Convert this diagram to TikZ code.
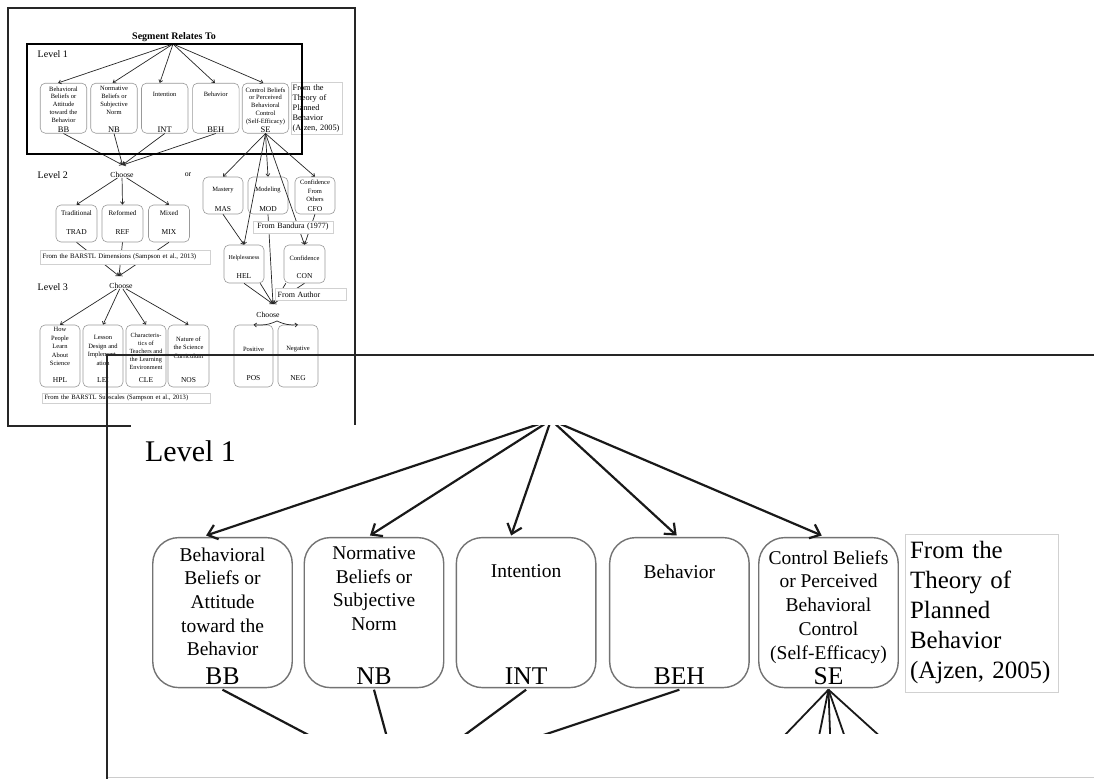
\documentclass[tikz,border=0pt]{standalone}
\usepackage{fontspec}
\setmainfont{Liberation Serif}
\usetikzlibrary{arrows.meta,shadows}

% Level 1 of the coding tree; #1 prefixes every node name so that it can be drawn twice
\newcommand\levelone[1]{%
  \coordinate (#1src) at (173,44);
  \coordinate (#1join) at (122.5,165);
  \node[lvtitle, anchor=west] (#1lvl) at (37.5,54.5) {Level 1};
  \node[lvbox, minimum width=46.5pt, minimum height=50pt] (#1bb)  at (63.5,108.2) {};
  \node[lvbox, minimum width=46.5pt, minimum height=50pt] (#1nb)  at (114,108.2) {};
  \node[lvbox, minimum width=46.5pt, minimum height=50pt] (#1int) at (164.7,108.2) {};
  \node[lvbox, minimum width=46.5pt, minimum height=50pt] (#1beh) at (215.8,108.2) {};
  \node[lvbox, minimum width=46.5pt, minimum height=50pt] (#1se)  at (265.5,108.2) {};
  \node[btxt] (#1bbt)  at (63.5,86.3)  {Behavioral\\Beliefs or\\Attitude\\toward the\\Behavior};
  \node[btxt] (#1nbt)  at (114,86)     {Normative\\Beliefs or\\Subjective\\Norm};
  \node[btxt] (#1intt) at (164.7,92)   {Intention};
  \node[btxt] (#1beht) at (215.8,92)   {Behavior};
  \node[btxt] (#1set)  at (265.5,87.3) {Control Beliefs\\or Perceived\\Behavioral\\Control\\(Self-Efficacy)};
  \node[babbr] (#1bba)  at (63.5,132.3)  {BB};
  \node[babbr] (#1nba)  at (114,132.3)   {NB};
  \node[babbr] (#1inta) at (164.7,132.3) {INT};
  \node[babbr] (#1beha) at (215.8,132.3) {BEH};
  \node[babbr] (#1sea)  at (265.5,132.3) {SE};
  \node[tpbnote] (#1tpb) at (291,81.7) {From the\\Theory of\\Planned\\Behavior\\(Ajzen, 2005)};
  \draw[lvarrow] (#1src) -- (#1bb.102);
  \draw[lvarrow] (#1src) -- (#1nb.93);
  \draw[lvarrow] (#1src) -- (#1int.101);
  \draw[lvarrow] (#1src) -- (#1beh.92);
  \draw[lvarrow] (#1src) -- (#1se.95);
  \foreach \b in {bb,nb,int,beh} \draw[lvarrow] (#1\b.south) -- (#1join);
}

\begin{document}
\begin{tikzpicture}[x=1pt,y=-1pt,
  frame/.style={draw=black!85, line width=1.3pt},
  lvbox/.style={draw=black!40, line width=0.6pt, rounded corners=5pt, inner sep=0pt, fill=white},
  lvarrow/.style={draw=black!85, line width=0.7pt, -{Straight Barb[length=2.5pt,width=4pt]}},
  fanline/.style={draw=black!85, line width=0.7pt, -{Straight Barb[length=2.5pt,width=4pt]}},
  btxt/.style={font=\fontsize{6.5}{7.9}\selectfont, align=center, inner sep=0pt, anchor=north},
  babbr/.style={font=\fontsize{8.5}{9}\selectfont, inner sep=0pt, anchor=base},
  lvtitle/.style={font=\fontsize{10}{12}\selectfont, inner sep=0pt},
  tpbnote/.style={draw=black!18, fill=white, drop shadow={shadow xshift=0.4pt, shadow yshift=-0.4pt, fill=black!40, opacity=0.4},
    inner xsep=1.5pt, inner ysep=2.6pt, align=left, text width=48pt, anchor=north west,
    font=\fontsize{8.3}{10}\selectfont},
  srclabel/.style={draw=black!18, fill=white, drop shadow={shadow xshift=0.4pt, shadow yshift=-0.4pt, fill=black!40, opacity=0.4},
    inner xsep=2.5pt, inner ysep=0pt, align=left},
  wtxt/.style={font=\fontsize{7}{8.5}\selectfont, inner sep=0pt},
  stxt/.style={font=\fontsize{6.5}{8.5}\selectfont, inner sep=0pt, align=center},
  abbr/.style={font=\fontsize{7.5}{9}\selectfont, inner sep=0pt},
  choosetxt/.style={font=\fontsize{7.7}{9}\selectfont, inner sep=0pt}]

\useasboundingbox (0,0) rectangle (1094,779);
\fill[white] (0,0) rectangle (1094,779);

% ---------- overview of the whole coding tree ----------
\draw[frame] (8,8) rectangle (355,426);
\node[font=\bfseries\fontsize{10}{12}\selectfont, inner sep=0pt] (title) at (174,37) {Segment Relates To};

\levelone{}
\draw[line width=1.8pt] (27,44) rectangle (302,154);

% Level 2, left branch
\node[lvtitle, anchor=west] (lvl2) at (37.5,175) {Level 2};
\node[choosetxt] (ch2) at (122,175) {Choose};
\node[choosetxt] (orx) at (188,175) {or};
\node[lvbox, minimum width=41pt, minimum height=37pt] (trad) at (76.5,223.5) {};
\node[lvbox, minimum width=41pt, minimum height=37pt] (ref)  at (122.5,223.5) {};
\node[lvbox, minimum width=41pt, minimum height=37pt] (mix)  at (169,223.5) {};
\node[wtxt] (tradt) at (76.5,213) {Traditional};
\node[wtxt] (reft)  at (122.5,213) {Reformed};
\node[wtxt] (mixt)  at (169,213) {Mixed};
\node[abbr] (trada) at (76.5,232) {TRAD};
\node[abbr] (refa)  at (122.5,232) {REF};
\node[abbr] (mixa)  at (169,232) {MIX};
\draw[lvarrow] (ch2) -- (trad.north);
\draw[lvarrow] (ch2) -- (ref.north);
\draw[lvarrow] (ch2) -- (mix.north);
\coordinate (join3) at (119,276);
\foreach \b in {trad,ref,mix} \draw[lvarrow] (\b.south) -- (join3);
\node[srclabel, text width=165pt, minimum height=14pt, font=\fontsize{6.8}{8}\selectfont] (dims) at (125,257)
  {From the BARSTL Dimensions (Sampson et al., 2013)};

% Level 3
\node[lvtitle, anchor=west] (lvl3) at (37.5,287) {Level 3};
\node[choosetxt] (ch3) at (121,286) {Choose};
\node[lvbox, minimum width=40pt, minimum height=62pt] (hpl) at (60,356) {};
\node[lvbox, minimum width=40pt, minimum height=62pt] (lei) at (103,356) {};
\node[lvbox, minimum width=40pt, minimum height=62pt] (cle) at (146,356) {};
\node[lvbox, minimum width=41pt, minimum height=62pt] (nos) at (188.5,356) {};
\node[stxt, anchor=north] (hplt) at (60,327.3) {How\\People\\Learn\\About\\Science};
\node[stxt, anchor=north] (leit) at (103,335.5) {Lesson\\Design and\\Implement-\\ation};
\node[stxt, anchor=north, font=\fontsize{6.3}{8}\selectfont] (clet) at (146,332.5) {Characteris-\\tics of\\Teachers and\\the Learning\\Environment};
\node[stxt, anchor=north] (nost) at (188.5,336.5) {Nature of\\the Science\\Curriculum};
\node[abbr] (hpla) at (60,380) {HPL};
\node[abbr] (leia) at (103,380) {LEI};
\node[abbr] (clea) at (146,380) {CLE};
\node[abbr] (nosa) at (188.5,380) {NOS};
\foreach \b in {hpl,lei,cle,nos} \draw[lvarrow] (ch3) -- (\b.north);
\node[srclabel, text width=163pt, minimum height=10.5pt, font=\fontsize{6.6}{8}\selectfont] (subs) at (126,398)
  {From the BARSTL Subscales (Sampson et al., 2013)};

% Level 2, self-efficacy branch
\node[lvbox, minimum width=40pt, minimum height=37pt] (mas) at (223,195.5) {};
\node[lvbox, minimum width=40pt, minimum height=37pt] (mod) at (268,195.5) {};
\node[lvbox, minimum width=40pt, minimum height=37pt] (cfo) at (315,195.5) {};
\node[lvbox, minimum width=40pt, minimum height=38pt] (hel) at (244,264) {};
\node[lvbox, minimum width=41pt, minimum height=38pt] (con) at (304.5,264) {};
\node[lvbox, minimum width=39pt, minimum height=62pt] (pos) at (253.5,356) {};
\node[lvbox, minimum width=40pt, minimum height=62pt] (neg) at (298,356) {};
\node[stxt] (mast) at (223,190) {Mastery};
\node[stxt] (modt) at (268,190) {Modeling};
\node[stxt, anchor=north] (cfot) at (315,179.8) {Confidence\\From\\Others};
\node[stxt, font=\fontsize{6}{8}\selectfont] (helt) at (244,258) {Helplessness};
\node[stxt] (cont) at (304.5,258) {Confidence};
\node[stxt] (post) at (253.5,349) {Positive};
\node[stxt] (negt) at (298,349) {Negative};
\node[abbr] (masa) at (223,209) {MAS};
\node[abbr] (moda) at (268,209) {MOD};
\node[abbr] (cfoa) at (315,209) {CFO};
\node[abbr] (hela) at (244,276) {HEL};
\node[abbr] (cona) at (304.5,276) {CON};
\node[abbr] (posa) at (253.5,378) {POS};
\node[abbr] (nega) at (298,378) {NEG};
\coordinate (joinr) at (273,304);
\node[choosetxt] (chr) at (268,315) {Choose};
\coordinate (chrfork) at (277,321);

\draw[fanline] (se.south) -- (mas.north);
\draw[fanline] (se.south) -- (mod.north);
\draw[fanline] (se.south) -- (cfo.north);
\draw[fanline] (se.south) -- (hel.north);
\draw[fanline] (se.south) -- (con.north);
\draw[fanline] (mas.south) -- (hel.north);
\draw[fanline] (cfo.south) -- (con.north);
\draw[fanline] (mod.south) -- (joinr);
\draw[fanline] (hel.south) -- (joinr);
\draw[fanline] (hel.-50) -- (joinr);
\draw[fanline] (con.-134) -- (joinr);
\draw[fanline] (con.south) -- (joinr);
\draw[fanline] (chrfork) to[bend left=15] (pos.north);
\draw[fanline] (chrfork) to[bend right=15] (neg.north);

\node[srclabel, text width=75pt, minimum height=12pt, font=\fontsize{8}{9}\selectfont, align=center] (bandura) at (293,227)
  {From Bandura (1977)};
\node[srclabel, text width=66pt, minimum height=12pt, font=\fontsize{8}{9}\selectfont, anchor=west] (author) at (275,294.5)
  {From Author};

% ---------- enlarged view of Level 1 ----------
\fill[white] (131,425) rectangle (1094,779);
\begin{scope}
  \clip (131,425.5) rectangle (1094,733);
  \begin{scope}[shift={(32,288)}, scale=3, transform shape,
      lvbox/.style={draw=black!55, line width=1.4pt, rounded corners=26pt, inner sep=0pt, fill=white},
      lvarrow/.style={draw=black!90, line width=2.2pt, -{Straight Barb[length=9pt,width=15pt]}},
      fanline/.style={draw=black!90, line width=1.8pt}]
    \levelone{z}
    \coordinate (zmas) at (225,176);
    \coordinate (zmod) at (267,176);
    \coordinate (zcfo) at (312,176);
    \coordinate (zhel) at (243,244);
    \coordinate (zcon) at (303,242);
    \foreach \t in {zmas,zmod,zcfo,zhel,zcon} \draw[fanline] (zse.south) -- (\t);
  \end{scope}
\end{scope}
\draw[black!20, line width=0.8pt] (107,777) -- (1094,777);
\draw[line width=2pt, black!85] (1094,355) -- (107,355) -- (107,779);

\end{tikzpicture}
\end{document}
